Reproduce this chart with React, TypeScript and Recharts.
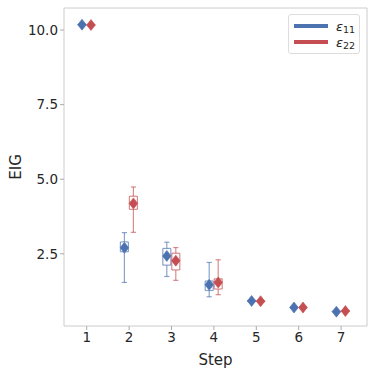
import { ComposedChart, Bar, XAxis, YAxis, Legend } from "recharts"

const steps = [1, 2, 3, 4, 5, 6, 7]

// eps_11 (blue) box stats
const e11Low = [10.14, 1.54, 1.74, 1.06, 0.88, 0.67, 0.53]
const e11Q1 = [10.16, 2.57, 2.12, 1.27, 0.9, 0.69, 0.55]
const e11Mean = [10.18, 2.7, 2.43, 1.46, 0.92, 0.7, 0.56]
const e11Q3 = [10.2, 2.9, 2.68, 1.59, 0.94, 0.72, 0.58]
const e11High = [10.22, 3.21, 2.89, 2.21, 0.96, 0.74, 0.6]

// eps_22 (red) box stats
const e22Low = [10.13, 3.22, 1.61, 1.13, 0.87, 0.67, 0.55]
const e22Q1 = [10.15, 3.99, 1.96, 1.32, 0.89, 0.69, 0.57]
const e22Mean = [10.17, 4.19, 2.27, 1.54, 0.91, 0.7, 0.58]
const e22Q3 = [10.19, 4.43, 2.52, 1.66, 0.93, 0.72, 0.6]
const e22High = [10.21, 4.74, 2.71, 2.3, 0.95, 0.74, 0.62]

const yTicks = [2.5, 5, 7.5, 10]

const BLUE = "#4c72b0"
const RED = "#c44e52"
const FONT = "DejaVu Sans, sans-serif"

// stacked segments: base -> lower whisker -> lower box -> upper box -> upper whisker
const chartData = steps.map((s, i) => ({
  step: s,
  b0: e11Low[i],
  b1: e11Q1[i] - e11Low[i],
  b2: e11Mean[i] - e11Q1[i],
  b3: e11Q3[i] - e11Mean[i],
  b4: e11High[i] - e11Q3[i],
  r0: e22Low[i],
  r1: e22Q1[i] - e22Low[i],
  r2: e22Mean[i] - e22Q1[i],
  r3: e22Q3[i] - e22Mean[i],
  r4: e22High[i] - e22Q3[i],
}))

const makeSegment = (part: number, color: string) => (props: any) => {
  const { x, y, width, height } = props
  if (x == null || y == null) return <g />
  const cx = x + width / 2
  const x0 = x + 0.5
  const x1 = x + width - 0.5
  const line = { stroke: color, strokeOpacity: 0.65, strokeWidth: 1.2 }
  if (part === 0) return <g />
  if (part === 1) {
    return (
      <g>
        <line x1={cx} x2={cx} y1={y} y2={y + height} {...line} />
        <line x1={cx - 2.6} x2={cx + 2.6} y1={y + height} y2={y + height} {...line} />
      </g>
    )
  }
  if (part === 2) {
    return (
      <g>
        <line x1={x0} x2={x0} y1={y} y2={y + height} {...line} />
        <line x1={x1} x2={x1} y1={y} y2={y + height} {...line} />
        <line x1={x0} x2={x1} y1={y + height} y2={y + height} {...line} />
      </g>
    )
  }
  if (part === 3) {
    const my = y + height
    return (
      <g>
        <line x1={x0} x2={x0} y1={y} y2={y + height} {...line} />
        <line x1={x1} x2={x1} y1={y} y2={y + height} {...line} />
        <line x1={x0} x2={x1} y1={y} y2={y} {...line} />
        <path
          d={`M${cx},${my - 5.5} L${cx + 4.3},${my} L${cx},${my + 5.5} L${cx - 4.3},${my} Z`}
          fill={color}
          stroke={color}
          strokeWidth={0.6}
        />
      </g>
    )
  }
  return (
    <g>
      <line x1={cx} x2={cx} y1={y} y2={y + height} {...line} />
      <line x1={cx - 2.6} x2={cx + 2.6} y1={y} y2={y} {...line} />
    </g>
  )
}

const legendItems = [
  { name: "11", color: BLUE },
  { name: "22", color: RED },
]

const renderLegend = () => (
  <div
    style={{
      border: "1px solid #dddddd",
      borderRadius: 3,
      background: "#fff",
      padding: "3px 4px 3px 5px",
      fontFamily: FONT,
      fontSize: 13,
      lineHeight: "17px",
      color: "#262626",
    }}
  >
    {legendItems.map((item) => (
      <div key={item.name} style={{ display: "flex", alignItems: "center", height: 16 }}>
        <span style={{ display: "inline-block", width: 34, height: 4.5, background: item.color, marginRight: 8 }} />
        <span style={{ fontStyle: "italic" }}>ε</span>
        <span style={{ fontSize: 9.5, position: "relative", top: 3 }}>{item.name}</span>
      </div>
    ))}
  </div>
)

const renderYLabel = (props: any) => {
  const vb = props.viewBox
  const lx = vb.x + 16
  const ly = vb.y + vb.height / 2
  return (
    <text
      x={lx}
      y={ly}
      transform={`rotate(-90, ${lx}, ${ly})`}
      textAnchor="middle"
      dominantBaseline="central"
      fill="#262626"
      fontSize={15}
      fontFamily={FONT}
    >
      EIG
    </text>
  )
}

const App = () => {
  const tickStyle = { fill: "#262626", fontSize: 13.5, fontFamily: FONT }
  return (
    <div style={{ position: "absolute", left: 0, top: 0, width: 374, height: 374, background: "#fff" }}>
      <ComposedChart
        width={374}
        height={374}
        data={chartData}
        margin={{ top: 0, right: 0, bottom: 0, left: 0 }}
        barSize={9}
        barGap={0}
      >
        <XAxis
          dataKey="step"
          height={48}
          padding={{ left: 1.5, right: 4.7 }}
          tick={tickStyle}
          tickSize={4}
          tickMargin={2}
          tickLine={{ stroke: "#aaaaaa" }}
          axisLine={{ stroke: "#cccccc" }}
          label={{ value: "Step", position: "insideBottom", offset: 9, fill: "#262626", fontSize: 15, fontFamily: FONT }}
        />
        <XAxis xAxisId="top" dataKey="step" orientation="top" height={8} tick={false} tickLine={false} axisLine={{ stroke: "#cccccc" }} />
        <YAxis
          type="number"
          width={64}
          domain={[0.08, 10.74]}
          allowDataOverflow
          ticks={yTicks}
          tickFormatter={(v: number) => v.toFixed(1)}
          tick={tickStyle}
          tickSize={4}
          tickMargin={2}
          tickLine={{ stroke: "#aaaaaa" }}
          axisLine={{ stroke: "#cccccc" }}
          label={renderYLabel}
        />
        <YAxis yAxisId="right" orientation="right" width={7} domain={[0, 1]} tick={false} tickLine={false} axisLine={{ stroke: "#cccccc" }} />
        <Legend
          layout="vertical"
          align="center"
          verticalAlign="middle"
          content={renderLegend}
          wrapperStyle={{ top: 14, left: 288, width: "auto" }}
        />
        {[0, 1, 2, 3, 4].map((p) => (
          <Bar key={"b" + p} dataKey={"b" + p} stackId="e11" shape={makeSegment(p, BLUE)} isAnimationActive={false} />
        ))}
        {[0, 1, 2, 3, 4].map((p) => (
          <Bar key={"r" + p} dataKey={"r" + p} stackId="e22" shape={makeSegment(p, RED)} isAnimationActive={false} />
        ))}
      </ComposedChart>
    </div>
  )
}

export default App
